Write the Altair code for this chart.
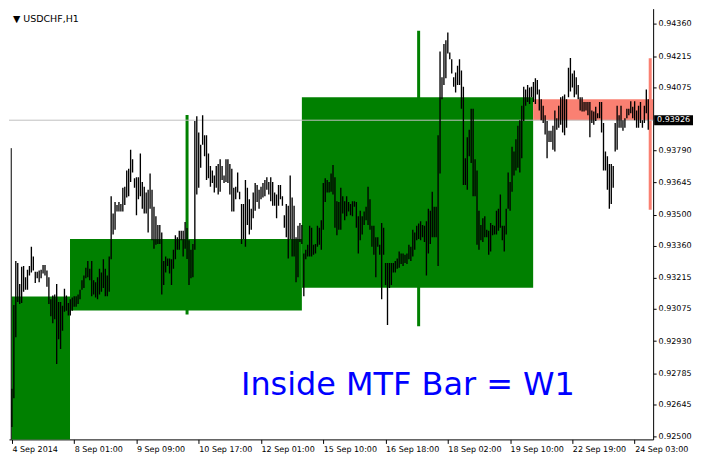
import altair as alt
import pandas as pd

# ---------------- data ----------------
tick_bars = [0, 32, 64, 96, 128, 160, 192, 224, 256, 288, 320]
tick_labels = ["4 Sep 2014", "8 Sep 01:00", "9 Sep 09:00", "10 Sep 17:00", "12 Sep 01:00",
               "15 Sep 10:00", "16 Sep 18:00", "18 Sep 02:00", "19 Sep 10:00",
               "22 Sep 19:00", "24 Sep 03:00"]
price_ticks = [0.92500, 0.92645, 0.92785, 0.92930, 0.93075, 0.93215, 0.93360,
               0.93500, 0.93645, 0.93790, 0.94075, 0.94215, 0.94360]

# H1 bars (high, low), one per hour from 4 Sep 2014 17:00
highs = [
    0.92715, 0.93093, 0.93291, 0.93282, 0.93188, 0.93265, 0.93269, 0.93218, 0.93252, 0.93269,
    0.93355, 0.93312, 0.93243, 0.93243, 0.93248, 0.93252, 0.93273, 0.93273, 0.93248, 0.93218,
    0.93119, 0.93136, 0.93140, 0.93188, 0.93106, 0.93106, 0.93089, 0.93166, 0.93136, 0.93102,
    0.93119, 0.93127, 0.93132, 0.93132, 0.93140, 0.93162, 0.93205, 0.93226, 0.93261, 0.93291,
    0.93256, 0.93291, 0.93205, 0.93196, 0.93218, 0.93256, 0.93239, 0.93299, 0.93256, 0.93226,
    0.93312, 0.93583, 0.93505, 0.93557, 0.93544, 0.93557, 0.93548, 0.93621, 0.93626, 0.93699,
    0.93707, 0.93793, 0.93750, 0.93664, 0.93669, 0.93669, 0.93776, 0.93647, 0.93626, 0.93600,
    0.93613, 0.93686, 0.93613, 0.93536, 0.93493, 0.93454, 0.93454, 0.93420, 0.93291, 0.93312,
    0.93303, 0.93303, 0.93299, 0.93342, 0.93407, 0.93398, 0.93428, 0.93428, 0.93428, 0.93467,
    0.93440, 0.93385, 0.93342, 0.93368, 0.93922, 0.93944, 0.93871, 0.93815, 0.93948, 0.93858,
    0.93858, 0.93776, 0.93720, 0.93699, 0.93677, 0.93720, 0.93729, 0.93750, 0.93720, 0.93677,
    0.93750, 0.93750, 0.93729, 0.93707, 0.93621, 0.93626, 0.93690, 0.93604, 0.93548, 0.93548,
    0.93656, 0.93621, 0.93570, 0.93527, 0.93600, 0.93643, 0.93634, 0.93613, 0.93626, 0.93643,
    0.93656, 0.93669, 0.93647, 0.93669, 0.93647, 0.93600, 0.93591, 0.93634, 0.93634, 0.93583,
    0.93497, 0.93548, 0.93540, 0.93677, 0.93578, 0.93540, 0.93398, 0.93450, 0.93463, 0.93454,
    0.93325, 0.93342, 0.93364, 0.93450, 0.93441, 0.93364, 0.93368, 0.93450, 0.93441, 0.93475,
    0.93643, 0.93664, 0.93656, 0.93647, 0.93686, 0.93724, 0.93669, 0.93561, 0.93557, 0.93621,
    0.93583, 0.93561, 0.93583, 0.93557, 0.93548, 0.93561, 0.93561, 0.93557, 0.93493, 0.93518,
    0.93493, 0.93514, 0.93536, 0.93626, 0.93570, 0.93450, 0.93450, 0.93398, 0.93398, 0.93364,
    0.93463, 0.93441, 0.93282, 0.93282, 0.93282, 0.93282, 0.93282, 0.93291, 0.93303, 0.93334,
    0.93325, 0.93325, 0.93320, 0.93325, 0.93364, 0.93355, 0.93432, 0.93420, 0.93450, 0.93460,
    0.93471, 0.93454, 0.93450, 0.93471, 0.93527, 0.93518, 0.93604, 0.93536, 0.93536, 0.93858,
    0.94236, 0.94120, 0.94270, 0.94287, 0.94322, 0.94231, 0.94201, 0.94120, 0.94141, 0.94171,
    0.94201, 0.94150, 0.94077, 0.93754, 0.93849, 0.93883, 0.93978, 0.93978, 0.93750, 0.93699,
    0.93518, 0.93454, 0.93484, 0.93493, 0.93432, 0.93428, 0.93463, 0.93454, 0.93450, 0.93518,
    0.93527, 0.93591, 0.93450, 0.93450, 0.93527, 0.93690, 0.93647, 0.93806, 0.93785, 0.93840,
    0.93901, 0.93926, 0.93991, 0.94077, 0.94064, 0.94085, 0.94073, 0.94077, 0.94098, 0.94115,
    0.94107, 0.94064, 0.94021, 0.93991, 0.93948, 0.93922, 0.93879, 0.93879, 0.93901, 0.93970,
    0.93935, 0.93991, 0.94030, 0.94034, 0.94042, 0.94021, 0.94163, 0.94206, 0.94137, 0.94150,
    0.94120, 0.94085, 0.94030, 0.94030, 0.94008, 0.94008, 0.94008, 0.94008, 0.93970, 0.93965,
    0.93987, 0.93957, 0.94008, 0.94008, 0.93914, 0.93785, 0.93763, 0.93729, 0.93729, 0.93720,
    0.93914, 0.93991, 0.93948, 0.93991, 0.93926, 0.93935, 0.93978, 0.93978, 0.94012, 0.93987,
    0.94012, 0.93970, 0.93991, 0.94008, 0.93926, 0.93991, 0.94064, 0.94021,
]
lows = [
    0.92543, 0.92672, 0.92947, 0.93106, 0.93097, 0.93102, 0.93153, 0.93162, 0.93162, 0.93226,
    0.93239, 0.93248, 0.93192, 0.93213, 0.93196, 0.93213, 0.93235, 0.93226, 0.93175, 0.93097,
    0.93042, 0.93011, 0.93029, 0.92827, 0.92938, 0.92895, 0.92977, 0.93063, 0.93067, 0.93046,
    0.93046, 0.93067, 0.93085, 0.93085, 0.93097, 0.93119, 0.93162, 0.93170, 0.93213, 0.93218,
    0.93205, 0.93132, 0.93140, 0.93127, 0.93119, 0.93140, 0.93153, 0.93170, 0.93132, 0.93132,
    0.93153, 0.93299, 0.93411, 0.93432, 0.93514, 0.93514, 0.93514, 0.93514, 0.93544, 0.93578,
    0.93583, 0.93647, 0.93690, 0.93621, 0.93497, 0.93570, 0.93583, 0.93527, 0.93505, 0.93505,
    0.93420, 0.93527, 0.93385, 0.93347, 0.93364, 0.93368, 0.93368, 0.93140, 0.93183, 0.93239,
    0.93269, 0.93235, 0.93183, 0.93256, 0.93299, 0.93342, 0.93342, 0.93385, 0.93312, 0.93347,
    0.93300, 0.93183, 0.93213, 0.93218, 0.93342, 0.93591, 0.93621, 0.93712, 0.93815, 0.93763,
    0.93656, 0.93664, 0.93626, 0.93643, 0.93600, 0.93621, 0.93591, 0.93604, 0.93656, 0.93643,
    0.93647, 0.93643, 0.93591, 0.93514, 0.93514, 0.93570, 0.93600, 0.93570, 0.93368, 0.93389,
    0.93355, 0.93454, 0.93411, 0.93432, 0.93484, 0.93518, 0.93557, 0.93527, 0.93570, 0.93578,
    0.93583, 0.93613, 0.93591, 0.93561, 0.93540, 0.93540, 0.93484, 0.93540, 0.93570, 0.93540,
    0.93441, 0.93398, 0.93303, 0.93389, 0.93312, 0.93312, 0.93196, 0.93218, 0.93377, 0.93368,
    0.93132, 0.93299, 0.93312, 0.93312, 0.93312, 0.93320, 0.93325, 0.93355, 0.93364, 0.93342,
    0.93432, 0.93557, 0.93600, 0.93600, 0.93604, 0.93591, 0.93441, 0.93407, 0.93432, 0.93432,
    0.93505, 0.93475, 0.93493, 0.93514, 0.93497, 0.93493, 0.93536, 0.93441, 0.93325, 0.93385,
    0.93411, 0.93454, 0.93475, 0.93454, 0.93432, 0.93355, 0.93320, 0.93218, 0.93355, 0.93320,
    0.93119, 0.93320, 0.93183, 0.93003, 0.93170, 0.93183, 0.93239, 0.93239, 0.93256, 0.93261,
    0.93278, 0.93269, 0.93282, 0.93278, 0.93299, 0.93291, 0.93312, 0.93342, 0.93385, 0.93390,
    0.93385, 0.93398, 0.93377, 0.93226, 0.93325, 0.93368, 0.93398, 0.93398, 0.93398, 0.93269,
    0.93686, 0.94021, 0.94085, 0.94115, 0.94227, 0.94201, 0.94137, 0.94077, 0.94051, 0.94085,
    0.94085, 0.93978, 0.93634, 0.93634, 0.93613, 0.93763, 0.93733, 0.93583, 0.93583, 0.93364,
    0.93342, 0.93385, 0.93377, 0.93398, 0.93398, 0.93320, 0.93334, 0.93407, 0.93411, 0.93411,
    0.93428, 0.93441, 0.93385, 0.93334, 0.93411, 0.93527, 0.93518, 0.93604, 0.93677, 0.93699,
    0.93712, 0.93690, 0.93754, 0.93922, 0.93991, 0.94008, 0.93999, 0.94030, 0.94008, 0.93999,
    0.94042, 0.93970, 0.93926, 0.93914, 0.93862, 0.93754, 0.93828, 0.93828, 0.93793, 0.93785,
    0.93883, 0.93892, 0.93905, 0.93871, 0.93858, 0.93892, 0.94030, 0.94056, 0.94073, 0.94030,
    0.94042, 0.94021, 0.93970, 0.93965, 0.93965, 0.93970, 0.93948, 0.93849, 0.93914, 0.93905,
    0.93922, 0.93935, 0.93935, 0.93871, 0.93699, 0.93699, 0.93613, 0.93527, 0.93548, 0.93621,
    0.93785, 0.93793, 0.93892, 0.93892, 0.93879, 0.93892, 0.93935, 0.93948, 0.93957, 0.93935,
    0.93926, 0.93892, 0.93892, 0.93914, 0.93892, 0.93914, 0.93957, 0.93883,
]

# W1 "inside MTF" bars: body box and wick
week_start = [-0.15, 29.85, 149.0, 267.85]
week_end = [29.85, 149.0, 267.85, 329.5]
week_open = [0.92400, 0.93068, 0.93171, 0.94021]
week_close = [0.93131, 0.93391, 0.94030, 0.93926]
wick_bar = [90, 209, 328]
wick_high = [0.93949, 0.94329, 0.94205]
wick_low = [0.93050, 0.92997, 0.93522]
wick_up = [True, True, False]

edge_bar = [-0.35]
edge_high = [0.93800]
edge_low = [0.92400]

last_price = 0.93926
symbol_text = "▼ USDCHF,H1"
caption = "Inside MTF Bar = W1"

# ---------------- chart ----------------
W, H = 646, 432
GREEN, SALMON = "#008000", "#FA8072"
FONT = "DejaVu Sans"

bars = pd.DataFrame({"i": list(range(len(highs))), "hi": highs, "lo": lows})
weeks = pd.DataFrame({"i": week_start, "e": week_end, "hi": week_open, "lo": week_close})
weeks["col"] = [GREEN if c >= o else SALMON for o, c in zip(week_open, week_close)]
wicks = pd.DataFrame({"i": wick_bar, "hi": wick_high, "lo": wick_low,
                      "col": [GREEN if u else SALMON for u in wick_up]})
edge = pd.DataFrame({"i": edge_bar, "hi": edge_high, "lo": edge_low})
lp = pd.DataFrame({"hi": [last_price], "t": [f"{last_price:.5f}"]})
one = pd.DataFrame({"a": [0]})

xs = alt.Scale(domain=[-1.5, 329.5], nice=False, zero=False)
ys = alt.Scale(domain=[0.92487, 0.94429], nice=False, zero=False)

lab_arr = "[" + ",".join(f"'{t}'" for t in tick_labels) + "]"
pos_arr = "[" + ",".join(str(t) for t in tick_bars) + "]"

x_axis = alt.Axis(values=tick_bars, labelExpr=f"{lab_arr}[indexof({pos_arr}, datum.value)]",
                  labelAlign="left", labelFont=FONT, labelFontSize=8, labelColor="black",
                  labelPadding=2, tickSize=4, tickColor="black", domainColor="black",
                  labelOverlap=False, labelFlush=False, grid=False, title=None)
y_axis = alt.Axis(orient="right", values=price_ticks, format=".5f", labelFont=FONT,
                  labelFontSize=8, labelColor="black", labelPadding=2, tickSize=3,
                  tickColor="black", domainColor="black", labelOverlap=False,
                  labelFlush=False, grid=False, title=None)


def X(f):
    return alt.X(f"{f}:Q", scale=xs, axis=x_axis)


def Y(f):
    return alt.Y(f"{f}:Q", scale=ys, axis=y_axis)


boxes = alt.Chart(weeks).mark_rect(clip=True).encode(
    x=X("i"), x2="e:Q", y=Y("hi"), y2="lo:Q",
    color=alt.Color("col:N", scale=None))

wick_layer = alt.Chart(wicks).mark_rule(strokeWidth=3, clip=True).encode(
    x=X("i"), y=Y("hi"), y2="lo:Q", color=alt.Color("col:N", scale=None))

price_line = alt.Chart(lp).mark_rule(color="#C0C0C0", strokeWidth=1).encode(
    y=Y("hi"), x=alt.value(0), x2=alt.value(W))

edge_layer = alt.Chart(edge).mark_rule(color="black", strokeWidth=1, clip=True).encode(
    x=X("i"), y=Y("hi"), y2="lo:Q")

bar_layer = alt.Chart(bars).mark_rule(color="black", strokeWidth=1.35, clip=True).encode(
    x=X("i"), y=Y("hi"), y2="lo:Q")

price_box = alt.Chart(lp).mark_rule(color="black", strokeWidth=10).encode(
    y=Y("hi"), x=alt.value(W + 1), x2=alt.value(W + 40))
price_txt = alt.Chart(lp).mark_text(align="left", baseline="middle", font=FONT,
                                    fontSize=8, color="white").encode(
    y=Y("hi"), x=alt.value(W + 4), text="t:N")

sym = alt.Chart(one).mark_text(text=symbol_text, align="left", baseline="middle",
                               font=FONT, fontSize=9.5, color="black").encode(
    x=alt.value(4), y=alt.value(10))
cap = alt.Chart(one).mark_text(text=caption, align="center", baseline="alphabetic",
                               font=FONT, fontSize=32, color="#0000FF").encode(
    x=alt.value(410 * W / 662), y=alt.value(405 * H / 452))

chart = alt.layer(boxes, wick_layer, price_line, edge_layer, bar_layer,
                  price_box, price_txt, sym, cap).properties(
    width=W, height=H, padding=0, background="white"
).configure_view(stroke=None)

chart.save("out.html", embed_options={"renderer": "svg", "actions": False})
